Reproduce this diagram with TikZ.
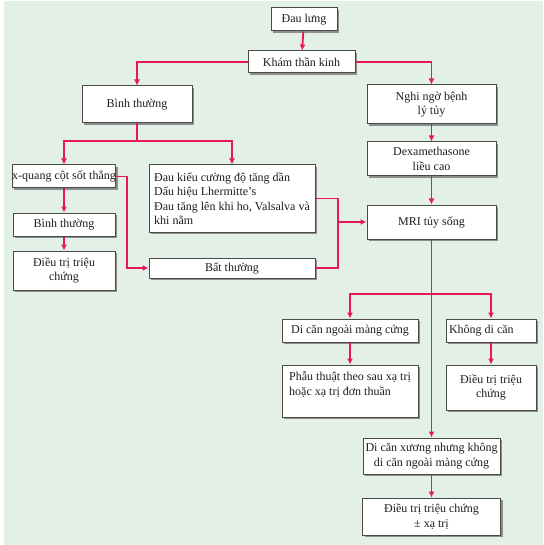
\documentclass[tikz,border=0pt]{standalone}
\usepackage{fontspec}
\setmainfont{Liberation Serif}
\usepackage{tikz}
\usetikzlibrary{arrows.meta, positioning, shadows}
\definecolor{bgmint}{HTML}{E3F0E6}
\definecolor{flow}{HTML}{E8175A}
\definecolor{edge}{HTML}{4A4A4A}
\definecolor{shade}{HTML}{8E8E8E}
\definecolor{ink}{HTML}{1E1E1E}

\begin{document}
\begin{tikzpicture}[
    x=1pt, y=-1pt,
    font=\fontsize{12}{14.5}\selectfont,
    bx/.style={draw=edge, line width=1pt, fill=white, text=ink, inner sep=2pt, align=center,
      drop shadow={shadow xshift=2pt, shadow yshift=-2pt, fill=shade, opacity=1}},
    ar/.style={-{Latex[length=6pt, width=6pt]}, flow, line width=1.8pt},
    ln/.style={flow, line width=1.8pt}
  ]
  \fill[white] (0,0) rectangle (543,545);
  \fill[bgmint] (4,1) rectangle (543,545);
  \useasboundingbox (0,0) rectangle (543,545);

  % top of the tree
  \node[bx, minimum width=66, minimum height=23] (pain) at (304,19.5) {Đau lưng};
  \node[bx, minimum width=107, minimum height=22] (neuro) at (301.5,62) {Khám thần kinh};
  \node[bx, minimum width=110, minimum height=37] (normA) at (137,104.5) {Bình thường};
  \node[bx, minimum width=129, minimum height=39] (susp) at (431.5,104.5) {Nghi ngờ bệnh\\lý tủy};

  % left branch
  \node[bx, minimum width=102, minimum height=23, inner xsep=0pt] (xray) at (64,176.5) {x-quang cột sốt thẳng};
  \node[bx, minimum width=166, minimum height=67, align=left] (sympt) at (232,198.5) {Đau kiểu cường độ tăng dần\\Dấu hiệu Lhermitte’s\\Đau tăng lên khi ho, Valsalva và\\khi nằm};
  \node[bx, minimum width=102, minimum height=23, below=24pt of xray] (normB) {Bình thường};
  \node[bx, minimum width=102, minimum height=39, below=14pt of normB] (treatL) {Điều trị triệu\\chứng};
  \node[bx, minimum width=166, minimum height=20] (abn) at (232,268) {Bất thường};

  % right branch
  \node[bx, minimum width=129, minimum height=34] (dexa) at (431.5,159) {Dexamethasone\\liều cao};
  \node[bx, minimum width=129, minimum height=34] (mri) at (431.5,222) {MRI tủy sống};
  \node[bx, minimum width=136, minimum height=23] (epid) at (350,330.5) {Di căn ngoài màng cứng};
  \node[bx, minimum width=90, minimum height=23, text width=84pt, inner xsep=3pt, align=flush left] (nomet) at (491,330.5) {Không di căn};
  \node[bx, minimum width=136, minimum height=52, align=left] (surg) at (350,391) {Phẫu thuật theo sau xạ trị\\hoặc xạ trị đơn thuần\\\mbox{}};
  \node[bx, minimum width=90, minimum height=45] (treatR) at (491,387.5) {Điều trị triệu\\chứng};
  \node[bx, minimum width=137, minimum height=36] (dxbone) at (431.5,456) {Di căn xương nhưng không\\di căn ngoài màng cứng};
  \node[bx, minimum width=138, minimum height=37, below=23pt of dxbone] (final) {Điều trị triệu chứng\\± xạ trị};

  \coordinate (jA) at (137,141);
  \coordinate (xk) at (127,176.5);
  \coordinate (jM) at (338,222);
  \coordinate (jB) at (431.5,294);

  % connectors
  \draw[ar] (pain) -- (neuro);
  \draw[ar] (neuro.west) -| (normA.north);
  \draw[ar] (neuro.east) -| (susp.north);
  \draw[ar] (susp) -- (dexa);
  \draw[ar] (dexa) -- (mri);
  \draw[ln] (normA) -- (jA);
  \draw[ar] (jA) -| (xray.north);
  \draw[ar] (jA) -| (sympt.north);
  \draw[ar] (xray) -- (normB);
  \draw[ar] (normB) -- (treatL);
  \draw[ar] (xray.east) -- (xk) |- (abn.west);
  \draw[ln] (sympt.east) -| (jM) |- (abn.east);
  \draw[ar] (jM) -- (mri.west);
  \draw[ar] (mri) -- (dxbone);
  \draw[ar] (jB) -| (epid.north);
  \draw[ar] (jB) -| (nomet.north);
  \draw[ar] (epid) -- (surg);
  \draw[ar] (nomet) -- (treatR);
  \draw[ar] (dxbone) -- (final);
\end{tikzpicture}
\end{document}
